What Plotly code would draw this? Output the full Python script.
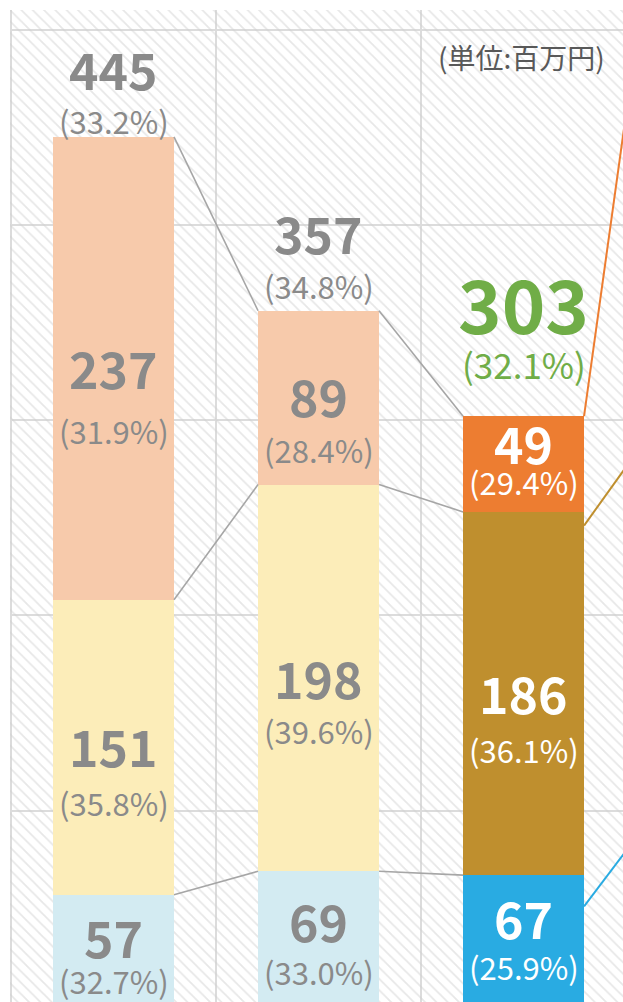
import plotly.graph_objects as go

# ---------------- data ----------------
columns = [0, 1, 2]
bottom_vals = [57, 69, 67]
middle_vals = [151, 198, 186]
top_vals = [237, 89, 49]
total_labels = [445, 357, 303]
total_pcts = ["33.2%", "34.8%", "32.1%"]
bottom_pcts = ["32.7%", "33.0%", "25.9%"]
middle_pcts = ["35.8%", "39.6%", "36.1%"]
top_pcts = ["31.9%", "28.4%", "29.4%"]

# series lines leaving the last visible column toward the next (off-frame) column
exit_start = [51, 246, 302]   # bottom, middle, top series
exit_end = [108, 306, 612]

unit_text = "(単位:百万円)"

# ---------------- styles ----------------
FONT = "Noto Sans CJK JP"
BAR_W = 0.59
pale = {"bottom": "#D3EBF2", "middle": "#FCEDB9", "top": "#F7CAAB"}
vivid = {"bottom": "#29ABE2", "middle": "#BF8F2E", "top": "#ED7D31"}
GRAY_TXT = "#8A8A8A"
GREEN = "#70AD47"
CONNECT = "#A6A6A6"
GRID = "#DCDCDC"
XR = [-0.505, 2.485]
YR = [2.05, 510]

fig = go.Figure()

# hatched plot background (base axes, drawn beneath the overlaid chart axes)
fig.add_trace(go.Scatter(
    x=[XR[0], XR[0], XR[1], XR[1], XR[0]], y=[YR[0], YR[1], YR[1], YR[0], YR[0]],
    mode="lines", line=dict(width=0), fill="toself",
    fillcolor="rgba(255,255,255,0)",
    fillpattern=dict(shape="\\", fgcolor="#CFCFCF", bgcolor="rgba(255,255,255,0)",
                     size=8, solidity=0.22, fillmode="overlay"),
    hoverinfo="skip", showlegend=False, xaxis="x", yaxis="y"))

def seg_colors(key):
    return [pale[key], pale[key], vivid[key]]

for vals, key in [(bottom_vals, "bottom"), (middle_vals, "middle"), (top_vals, "top")]:
    fig.add_trace(go.Bar(x=columns, y=vals, width=BAR_W,
                         marker=dict(color=seg_colors(key), line=dict(width=0)),
                         showlegend=False, hoverinfo="skip", xaxis="x2", yaxis="y2"))

cum_bottom = bottom_vals
cum_middle = [b + m for b, m in zip(bottom_vals, middle_vals)]
cum_top = [b + m + t for b, m, t in zip(bottom_vals, middle_vals, top_vals)]

half = BAR_W / 2
for cum in (cum_bottom, cum_middle, cum_top):
    xs, ys = [], []
    for i in range(len(columns) - 1):
        xs += [columns[i] + half, columns[i + 1] - half, None]
        ys += [cum[i], cum[i + 1], None]
    fig.add_trace(go.Scatter(x=xs, y=ys, mode="lines",
                             line=dict(color=CONNECT, width=1.6),
                             hoverinfo="skip", showlegend=False, xaxis="x2", yaxis="y2"))

last = columns[-1]
for key, s, e in zip(["bottom", "middle", "top"], exit_start, exit_end):
    fig.add_trace(go.Scatter(x=[last + half, last + 1 - half], y=[s, e], mode="lines",
                             line=dict(color=vivid[key], width=2),
                             hoverinfo="skip", showlegend=False, xaxis="x2", yaxis="y2"))

# ---------------- labels ----------------
ann = []
def add(x, y, text, size, color, shift, bold):
    ann.append(dict(x=x, y=y, xref="x2", yref="y2", text=(f"<b>{text}</b>" if bold else text),
                    showarrow=False, yshift=shift, xanchor="center", yanchor="middle",
                    font=dict(family=FONT, size=size, color=color)))

# pixel offsets (value label, percent label) relative to segment middle / bar top
seg_shift = {
    "bottom": [(14, -30), (19, -33), (24, -26)],
    "middle": [(2, -55), (1, -53), (2, -56)],
    "top": [(1, -62), (3, -52), (22, -17)],
}
tot_shift = [(69, 16), (79, 25), (115, 53)]

PCT = 31
for i, c in enumerate(columns):
    txt_col = GRAY_TXT if i < 2 else "white"
    segs = [
        ("bottom", bottom_vals[i], bottom_vals[i] / 2, bottom_pcts[i]),
        ("middle", middle_vals[i], cum_bottom[i] + middle_vals[i] / 2, middle_pcts[i]),
        ("top", top_vals[i], cum_middle[i] + top_vals[i] / 2, top_pcts[i]),
    ]
    for key, v, mid, p in segs:
        sv, sp = seg_shift[key][i]
        add(c, mid, str(v), 50, txt_col, sv, True)
        add(c, mid, f"({p})", PCT, txt_col, sp, False)
    tv, tp = tot_shift[i]
    if i < 2:
        add(c, cum_top[i], str(total_labels[i]), 50, GRAY_TXT, tv, True)
        add(c, cum_top[i], f"({total_pcts[i]})", PCT, GRAY_TXT, tp, False)
    else:
        add(c, cum_top[i], str(total_labels[i]), 74, GREEN, tv, True)
        add(c, cum_top[i], f"({total_pcts[i]})", 35, GREEN, tp, False)

ann.append(dict(x=0.834, y=0.953, xref="paper", yref="paper", text=unit_text,
                showarrow=False, xanchor="center", yanchor="middle",
                font=dict(family=FONT, size=28, color="#595959")))

axis_common = dict(showticklabels=False, zeroline=False, showline=False, ticks="")
fig.update_layout(
    width=623, height=1002,
    margin=dict(l=10, r=0, t=10, b=0),
    paper_bgcolor="white", plot_bgcolor="white",
    barmode="stack",
    annotations=ann,
    xaxis=dict(range=XR, tickvals=[-0.5, 0.5, 1.5, 2.5], showgrid=True,
               gridcolor=GRID, gridwidth=2, **axis_common),
    yaxis=dict(range=YR, tickvals=[100, 200, 300, 400, 500], showgrid=True,
               gridcolor=GRID, gridwidth=2, **axis_common),
    xaxis2=dict(range=XR, overlaying="x", showgrid=False, **axis_common),
    yaxis2=dict(range=YR, overlaying="y", showgrid=False, **axis_common),
)

fig.write_html("out.html", config={"displayModeBar": False},
               post_script="document.body.style.margin='0';document.body.style.overflow='hidden';")
